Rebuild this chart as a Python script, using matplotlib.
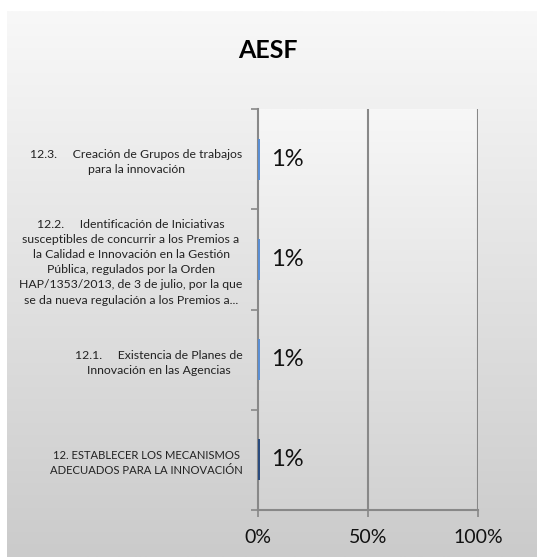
import numpy as np
import matplotlib
matplotlib.use("Agg")
import matplotlib.pyplot as plt

plt.rcParams["font.family"] = ["Lato", "DejaVu Sans"]

categories = [
    "12. ESTABLECER LOS MECANISMOS\nADECUADOS PARA LA INNOVACIÓN",
    "12.1.     Existencia de Planes de\nInnovación en las Agencias",
    "12.2.     Identificación de Iniciativas\nsusceptibles de concurrir a los Premios a\n"
    "la Calidad e Innovación en la Gestión\nPública, regulados por la Orden\n"
    "HAP/1353/2013, de 3 de julio, por la que\nse da nueva regulación a los Premios a...",
    "12.3.     Creación de Grupos de trabajos\npara la innovación",
]
values = [0.01, 0.01, 0.01, 0.01]
bar_colors = ["#2B4C7E", "#5B8FD4", "#5B8FD4", "#5B8FD4"]
xticks = [0, 0.5, 1.0]
xtick_labels = ["0%", "50%", "100%"]

W, H = 537, 557
fig = plt.figure(figsize=(W / 100, H / 100), dpi=100)
fig.patch.set_facecolor("white")

# chart background (gradient)
bg = fig.add_axes([7 / W, 0, 1 - 7 / W, 1 - 11 / H])
grad = np.linspace(0, 1, 256).reshape(-1, 1)
bg.imshow(grad, aspect="auto", cmap=matplotlib.colors.LinearSegmentedColormap.from_list(
    "bg", ["#f8f8f8", "#cbcbcb"]), extent=[0, 1, 1, 0])
bg.set_axis_off()

left, right, top, bottom = 258 / W, 478 / W, 1 - 109 / H, 1 - 510 / H
ax = fig.add_axes([left, bottom, right - left, top - bottom])
ax.set_zorder(2)
ax.patch.set_alpha(0)

# plot area gradient
pa = fig.add_axes([left, bottom, right - left, top - bottom])
pa.imshow(grad, aspect="auto", cmap=matplotlib.colors.LinearSegmentedColormap.from_list(
    "pa", ["#f7f7f7", "#d2d2d2"]), extent=[0, 1, 1, 0])
pa.set_axis_off()
pa.set_zorder(1)

y = np.arange(len(categories))
ax.barh(y, values, height=0.41, color=bar_colors, zorder=3)
for yi, v in zip(y, values):
    ax.text(v + 0.05, yi, f"{v:.0%}", va="center", ha="left", fontsize=17, color="#111111")

ax.set_xlim(0, 1)
ax.set_ylim(-0.5, len(categories) - 0.5)
ax.set_xticks(xticks)
ax.set_xticklabels(xtick_labels, fontsize=14, color="#111111")
ax.set_yticks(y)
labels = ax.set_yticklabels(categories, fontsize=8.8, color="#222222", multialignment="center",
                            linespacing=1.45)
labels[0].set_fontsize(8.1)
ax.set_yticks(np.arange(-0.5, len(categories), 1), minor=True)
ax.tick_params(axis="y", which="major", length=0, pad=11)
ax.tick_params(axis="y", which="minor", length=5, color="#888888", width=1.2)
ax.tick_params(axis="x", length=5, color="#888888", width=1.2, pad=9)

for x in xticks[1:]:
    ax.axvline(x, color="#888888", lw=1.5, zorder=1)
for s in ["top", "right"]:
    ax.spines[s].set_visible(False)
for s in ["left", "bottom"]:
    ax.spines[s].set_color("#888888")
    ax.spines[s].set_linewidth(1.5)

fig.text(268 / W, 1 - 50 / H, "AESF", ha="center", va="center", fontsize=18, fontweight="bold")

fig.savefig("out.png", dpi=100)
